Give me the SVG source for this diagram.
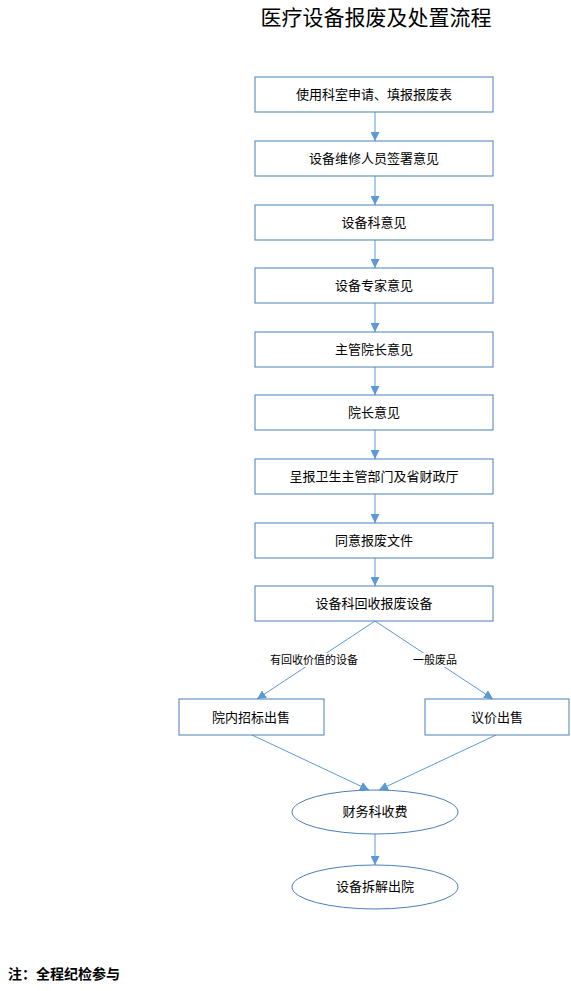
<svg xmlns="http://www.w3.org/2000/svg" width="571" height="991" viewBox="0 0 571 991">
<defs>
<style>
.box{fill:#fff;stroke:#4a7ebb;stroke-width:1}
.t{font-family:"Liberation Sans","Noto Sans CJK SC",sans-serif;font-size:13px;fill:#000;text-anchor:middle}
.c{stroke:#5b9bd5;stroke-width:1;fill:none}
.lbl{font-family:"Liberation Sans","Noto Sans CJK SC",sans-serif;font-size:11px;fill:#000;text-anchor:middle}
</style>
<marker id="ah" viewBox="0 0 10 10" refX="10" refY="5" markerWidth="9" markerHeight="9" markerUnits="userSpaceOnUse" orient="auto">
<path d="M0,0 L10,5 L0,10 z" fill="#5b9bd5"/>
</marker>
</defs>
<rect width="571" height="991" fill="#fff"/>
<text x="376" y="25" font-family="'Noto Sans CJK SC',sans-serif" font-size="21" text-anchor="middle">医疗设备报废及处置流程</text>
<g id="connectors">
<line class="c" x1="375" y1="112" x2="375" y2="141" marker-end="url(#ah)"/>
<line class="c" x1="375" y1="176" x2="375" y2="205" marker-end="url(#ah)"/>
<line class="c" x1="375" y1="240" x2="375" y2="268" marker-end="url(#ah)"/>
<line class="c" x1="375" y1="303" x2="375" y2="332" marker-end="url(#ah)"/>
<line class="c" x1="375" y1="367" x2="375" y2="395" marker-end="url(#ah)"/>
<line class="c" x1="375" y1="430" x2="375" y2="459" marker-end="url(#ah)"/>
<line class="c" x1="375" y1="494" x2="375" y2="523" marker-end="url(#ah)"/>
<line class="c" x1="375" y1="558" x2="375" y2="586" marker-end="url(#ah)"/>
<line class="c" x1="375" y1="621" x2="257" y2="699" marker-end="url(#ah)"/>
<line class="c" x1="375" y1="621" x2="493" y2="699" marker-end="url(#ah)"/>
<rect x="269" y="653" width="90" height="14" fill="#fff"/>
<text class="lbl" x="314" y="664">有回收价值的设备</text>
<rect x="412" y="653" width="47" height="14" fill="#fff"/>
<text class="lbl" x="435" y="664">一般废品</text>
<line class="c" x1="252" y1="735" x2="369" y2="790" marker-end="url(#ah)"/>
<line class="c" x1="496" y1="735" x2="379" y2="790" marker-end="url(#ah)"/>
<line class="c" x1="375" y1="834" x2="375" y2="865" marker-end="url(#ah)"/>
</g>
<g id="n1"><rect class="box" x="255" y="77" width="238" height="35"/><text class="t" x="374" y="99">使用科室申请、填报报废表</text></g>
<g id="n2"><rect class="box" x="255" y="141" width="238" height="35"/><text class="t" x="374" y="163">设备维修人员签署意见</text></g>
<g id="n3"><rect class="box" x="255" y="205" width="238" height="35"/><text class="t" x="374" y="227">设备科意见</text></g>
<g id="n4"><rect class="box" x="255" y="268" width="238" height="35"/><text class="t" x="374" y="290">设备专家意见</text></g>
<g id="n5"><rect class="box" x="255" y="332" width="238" height="35"/><text class="t" x="374" y="354">主管院长意见</text></g>
<g id="n6"><rect class="box" x="255" y="395" width="238" height="35"/><text class="t" x="374" y="417">院长意见</text></g>
<g id="n7"><rect class="box" x="255" y="459" width="238" height="35"/><text class="t" x="374" y="481">呈报卫生主管部门及省财政厅</text></g>
<g id="n8"><rect class="box" x="255" y="523" width="238" height="35"/><text class="t" x="374" y="545">同意报废文件</text></g>
<g id="n9"><rect class="box" x="255" y="586" width="238" height="35"/><text class="t" x="374" y="608">设备科回收报废设备</text></g>
<g id="n10"><rect class="box" x="179" y="699" width="145" height="36"/><text class="t" x="251" y="722">院内招标出售</text></g>
<g id="n11"><rect class="box" x="425" y="699" width="144" height="36"/><text class="t" x="497" y="722">议价出售</text></g>
<g id="n12"><ellipse class="box" cx="375" cy="812" rx="83" ry="22"/><text class="t" x="375" y="816">财务科收费</text></g>
<g id="n13"><ellipse class="box" cx="375" cy="887" rx="83" ry="22"/><text class="t" x="375" y="891">设备拆解出院</text></g>
<text x="8" y="979" font-family="'Noto Sans CJK SC',sans-serif" font-size="14" font-weight="bold">注：全程纪检参与</text>
</svg>
